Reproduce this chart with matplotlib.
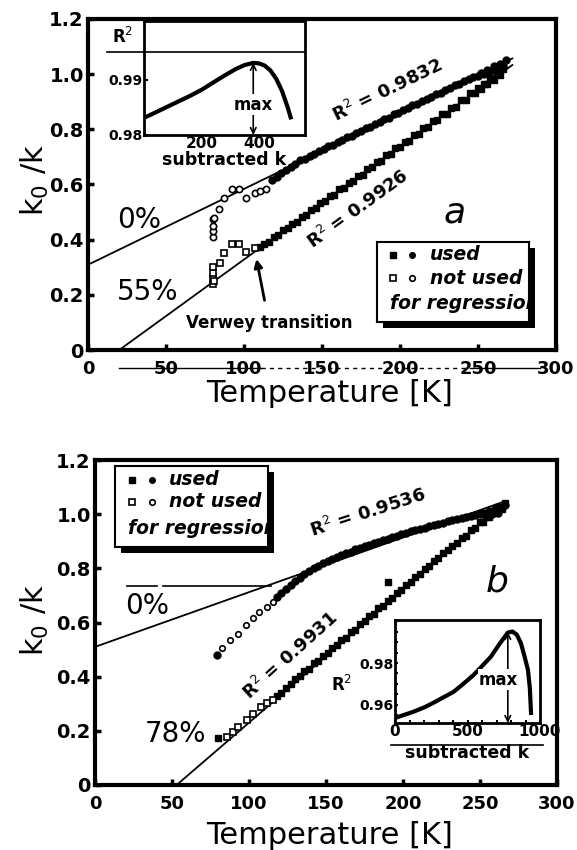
import numpy as np
import matplotlib.pyplot as plt
from matplotlib.patches import Rectangle
import matplotlib.transforms as mtransforms

W, H = 577, 850

# ---------------- panel a data ----------------
T_a0_not = [80, 80, 80, 80, 81, 84, 87, 92, 97, 101.5, 107, 110.5, 114]
y_a0_not = [0.41, 0.43, 0.45, 0.475, 0.48, 0.51, 0.55, 0.585, 0.585, 0.55, 0.57, 0.578, 0.585]
T_a0 = [118, 121, 124, 127, 130, 133, 136, 139, 142, 145, 148, 151, 154, 157, 160, 163, 166, 169,
        172, 175, 178, 181, 184, 187, 190, 193, 196, 199, 202, 205, 208, 211, 214, 217, 220, 223,
        226, 229, 232, 235, 238, 241, 244, 247, 250, 252, 254, 256, 258, 260, 262, 264, 266, 268]
y_a0 = [0.615, 0.628, 0.640, 0.652, 0.664, 0.676, 0.688, 0.694, 0.703, 0.712, 0.722, 0.727, 0.738,
        0.744, 0.755, 0.760, 0.772, 0.776, 0.788, 0.793, 0.805, 0.809, 0.821, 0.826, 0.838, 0.842,
        0.855, 0.858, 0.870, 0.876, 0.887, 0.893, 0.901, 0.911, 0.917, 0.928, 0.933, 0.944, 0.950,
        0.960, 0.966, 0.975, 0.982, 0.990, 0.993, 1.004, 1.000, 1.015, 1.010, 1.028, 1.020, 1.038,
        1.030, 1.050]
T_a55_not = [80, 80, 80, 80, 81, 84.5, 87, 92, 97, 101.5, 107]
y_a55_not = [0.24, 0.26, 0.28, 0.30, 0.25, 0.316, 0.353, 0.385, 0.385, 0.356, 0.37]
T_a55 = [110, 113, 116, 119, 122, 125, 128, 131, 134, 137, 140, 143, 146, 149, 152, 155, 158, 161,
         164, 167, 170, 173, 176, 179, 182, 185, 188, 191, 194, 197, 200, 203, 206, 209, 212, 215,
         218, 221, 224, 227, 230, 233, 236, 239, 242, 245, 248, 250, 252, 254, 256, 258, 260, 262,
         264, 266]
y_a55 = [0.372, 0.384, 0.392, 0.409, 0.416, 0.434, 0.441, 0.458, 0.465, 0.483, 0.490, 0.508, 0.514,
         0.533, 0.539, 0.558, 0.563, 0.583, 0.588, 0.607, 0.612, 0.632, 0.636, 0.657, 0.662, 0.681,
         0.685, 0.706, 0.711, 0.731, 0.735, 0.755, 0.759, 0.780, 0.784, 0.805, 0.808, 0.830, 0.833,
         0.855, 0.857, 0.879, 0.882, 0.905, 0.907, 0.930, 0.933, 0.950, 0.948, 0.966, 0.963, 0.985,
         0.980, 1.002, 0.998, 1.020]
fit_a0 = [0.309, 0.00275]     # intercept, slope
fit_a55 = [-0.082, 0.0041]
fit_a_T = [[0, 272], [20, 272]]

k_a = [0, 40, 80, 120, 160, 200, 240, 280, 320, 350, 380, 400, 420, 440, 460, 480, 500, 510]
r2_a = [0.9831, 0.9841, 0.9851, 0.9861, 0.9871, 0.9882, 0.9895, 0.9908, 0.9920, 0.9927, 0.9931,
        0.9930, 0.9926, 0.9917, 0.9902, 0.9880, 0.9850, 0.9832]

# ---------------- panel b data ----------------
T_b0_not = [82.5, 87.7, 93, 98, 102.6, 106.5, 111.7, 115.6]
y_b0_not = [0.507, 0.537, 0.559, 0.589, 0.615, 0.637, 0.656, 0.674]
T_b0 = [79, 118, 121, 124, 127, 130, 133, 136, 139, 142, 145, 148, 151, 154, 157, 160, 163, 166,
        169, 172, 175, 178, 181, 184, 187, 190, 193, 196, 199, 202, 205, 208, 211, 214, 217, 220,
        223, 226, 229, 232, 235, 238, 241, 244, 247, 250, 252, 254, 256, 258, 260, 262, 264, 266]
y_b0 = [0.48, 0.695, 0.710, 0.725, 0.740, 0.752, 0.765, 0.778, 0.790, 0.800, 0.810, 0.818, 0.826,
        0.834, 0.842, 0.848, 0.856, 0.862, 0.870, 0.875, 0.883, 0.887, 0.894, 0.898, 0.905, 0.909,
        0.916, 0.920, 0.926, 0.930, 0.937, 0.940, 0.946, 0.950, 0.956, 0.960, 0.965, 0.968, 0.974,
        0.977, 0.982, 0.985, 0.990, 0.992, 0.998, 1.000, 1.005, 0.996, 1.010, 1.000, 1.018, 1.005,
        1.025, 1.035]
T_b78_not = [85.6, 89.6, 93, 98.6, 102.6, 108, 112, 115.6]
y_b78_not = [0.178, 0.196, 0.215, 0.24, 0.263, 0.289, 0.304, 0.315]
T_b78 = [80, 118, 121, 124, 127, 130, 133, 136, 139, 142, 145, 148, 151, 154, 157, 160, 163, 166,
         169, 172, 175, 178, 181, 184, 187, 190, 193, 196, 199, 202, 205, 208, 211, 214, 217, 220,
         223, 226, 229, 232, 235, 238, 241, 244, 247, 250, 252, 254, 256, 258, 260, 262, 264, 266, 190]
y_b78 = [0.174, 0.330, 0.341, 0.360, 0.372, 0.390, 0.401, 0.420, 0.430, 0.449, 0.458, 0.478, 0.487,
         0.506, 0.516, 0.536, 0.544, 0.565, 0.574, 0.594, 0.604, 0.623, 0.633, 0.652, 0.662, 0.681,
         0.692, 0.710, 0.720, 0.739, 0.750, 0.768, 0.780, 0.797, 0.810, 0.826, 0.838, 0.855, 0.866,
         0.884, 0.894, 0.912, 0.921, 0.942, 0.950, 0.970, 0.972, 0.990, 0.988, 1.010, 1.005, 1.028,
         1.020, 1.040, 0.748]
fit_b0 = [0.51, 0.00202]
fit_b78 = [-0.2597, 0.0049]
fit_b_T = [[0, 266], [53, 266]]

k_b = [0, 60, 125, 200, 264, 330, 403, 470, 542, 600, 660, 720, 778, 810, 840, 868, 890, 917, 930, 938]
r2_b = [0.9538, 0.9552, 0.9567, 0.9588, 0.9610, 0.9635, 0.9662, 0.9700, 0.9743, 0.9785, 0.9829,
        0.9890, 0.9945, 0.9950, 0.9935, 0.9895, 0.9840, 0.9767, 0.9680, 0.9562]

xticks = [0, 50, 100, 150, 200, 250, 300]
yticks = [0, 0.2, 0.4, 0.6, 0.8, 1.0, 1.2]
ytick_labels = ['0', '0.2', '0.4', '0.6', '0.8', '1.0', '1.2']


def px_rect(l, t, r, b):
    return [l / W, 1 - b / H, (r - l) / W, (b - t) / H]


fig = plt.figure(figsize=(W / 100, H / 100), dpi=100)


def main_axes(rect):
    ax = fig.add_axes(rect)
    ax.set_xlim(0, 300)
    ax.set_ylim(0, 1.2)
    ax.set_xticks(xticks)
    ax.set_xticklabels([str(t) for t in xticks], fontsize=13, fontweight='bold')
    ax.set_yticks(yticks)
    ax.set_yticklabels(ytick_labels, fontsize=14, fontweight='bold')
    ax.tick_params(direction='in', length=4, width=2.5, pad=3)
    ax.tick_params(axis='x', pad=7)
    for s in ax.spines.values():
        s.set_linewidth(3)
    return ax


def draw_fit(ax, fit, Ts):
    xs = np.array(Ts, dtype=float)
    ax.plot(xs, fit[0] + fit[1] * xs, color='black', lw=1.3, zorder=2)


def legend_box(rect, mx, tx, rows, x3):
    shadow_rect = [rect[0] + 6 / W, rect[1] - 6 / H, rect[2], rect[3]]
    fig.add_artist(Rectangle(shadow_rect[:2], shadow_rect[2], shadow_rect[3],
                             transform=fig.transFigure, facecolor='black', zorder=3))
    lg = fig.add_axes(rect, zorder=4)
    lg.set_xlim(0, 1)
    lg.set_ylim(0, 1)
    lg.set_xticks([])
    lg.set_yticks([])
    for s in lg.spines.values():
        s.set_linewidth(1.5)
    lg.plot([mx[0]], [rows[0]], 's', color='black', ms=5)
    lg.plot([mx[1]], [rows[0]], 'o', color='black', ms=4)
    lg.plot([mx[0]], [rows[1]], 's', mfc='white', mec='black', mew=1.2, ms=5)
    lg.plot([mx[1]], [rows[1]], 'o', mfc='white', mec='black', mew=1.2, ms=4)
    kw = dict(style='italic', fontweight='bold', fontsize=13.5, va='center')
    lg.text(tx, rows[0], 'used', **kw)
    lg.text(tx, rows[1], 'not used', **kw)
    lg.text(x3, rows[2], 'for regression', clip_on=True, **kw)


# ================= panel a =================
ax = main_axes(px_rect(88, 19, 556, 350))
draw_fit(ax, fit_a0, fit_a_T[0])
draw_fit(ax, fit_a55, fit_a_T[1])
ax.plot(T_a0, y_a0, 'o', color='black', ms=5, zorder=3)
ax.plot(T_a55, y_a55, 's', color='black', ms=5, zorder=3)
ax.plot(T_a0_not, y_a0_not, 'o', mfc='white', mec='black', mew=1.2, ms=4.5, zorder=3)
ax.plot(T_a55_not, y_a55_not, 's', mfc='white', mec='black', mew=1.2, ms=5, zorder=3)

ax.text(33, 0.47, '0%', fontsize=20, ha='center', va='center')
ax.text(38, 0.21, '55%', fontsize=20, ha='center', va='center')
ax.text(192, 0.94, 'R$^2$ = 0.9832', fontsize=13, fontweight='bold', rotation=26,
        ha='center', va='center')
ax.text(173, 0.51, 'R$^2$ = 0.9926', fontsize=13, fontweight='bold', rotation=36,
        ha='center', va='center')
ax.text(235, 0.50, 'a', fontsize=26, style='italic', ha='center', va='center')
ax.annotate('Verwey transition', xy=(108, 0.33), xytext=(116, 0.098), fontsize=12,
            fontweight='bold', ha='center', va='center',
            arrowprops=dict(arrowstyle='-|>', color='black', lw=2, shrinkA=8, shrinkB=0))

# scanner stroke running through the tick labels
trans = mtransforms.blended_transform_factory(ax.transData, ax.transAxes)
ax.plot([20, 111], [-0.055, -0.055], color='black', lw=1, transform=trans, clip_on=False)
ax.plot([111, 245], [-0.055, -0.055], color='black', lw=1, ls=(0, (3, 3)), transform=trans,
        clip_on=False)
ax.plot([245, 290], [-0.055, -0.055], color='black', lw=1, transform=trans, clip_on=False)

fig.text(330 / W, 1 - 393 / H, 'Temperature [K]', fontsize=22, ha='center', va='center')
fig.text(35 / W, 1 - 180 / H, 'k$_0$ /k', fontsize=22, rotation=90, ha='center', va='center')

legend_box(px_rect(377, 242, 529, 322), [0.105, 0.23], 0.35, [0.84, 0.55, 0.23], 0.085)

# inset a
ia = fig.add_axes(px_rect(144, 21, 305, 135), zorder=4)
ia.plot(k_a, r2_a, color='black', lw=3)
ia.set_xlim(0, 560)
ia.set_ylim(0.98, 1.0007)
ia.set_xticks([200, 400])
ia.set_xticklabels(['200', '400'], fontsize=11, fontweight='bold')
ia.set_yticks([0.98, 0.99])
ia.set_yticklabels(['0.98', '0.99'], fontsize=10, fontweight='bold')
ia.tick_params(direction='in', length=3, width=1.5, pad=1)
ia.tick_params(axis='x', length=0)
for s in ia.spines.values():
    s.set_linewidth(2)
ia.axhline(0.995, xmin=-0.23, xmax=1, color='black', lw=1.2, clip_on=False)
ia.text(-0.13, 0.86, 'R$^2$', transform=ia.transAxes, fontsize=12, fontweight='bold',
        ha='center', va='center')
ia.annotate('', xy=(380, 0.9931), xytext=(380, 0.98),
            arrowprops=dict(arrowstyle='<->', color='black', lw=1.2, shrinkA=0, shrinkB=0))
ia.text(380, 0.9855, 'max', fontsize=12, fontweight='bold', ha='center', va='center',
        bbox=dict(facecolor='white', edgecolor='none', pad=1))
ia.set_xlabel('subtracted k', fontsize=12.5, fontweight='bold', labelpad=0)

# ================= panel b =================
bx = main_axes(px_rect(95, 460, 557, 785))
draw_fit(bx, fit_b0, fit_b_T[0])
draw_fit(bx, fit_b78, fit_b_T[1])
bx.plot(T_b0, y_b0, 'o', color='black', ms=5, zorder=3)
bx.plot(T_b78, y_b78, 's', color='black', ms=5, zorder=3)
bx.plot(T_b0_not, y_b0_not, 'o', mfc='white', mec='black', mew=1.2, ms=4, zorder=3)
bx.plot(T_b78_not, y_b78_not, 's', mfc='white', mec='black', mew=1.2, ms=5, zorder=3)

bx.plot([21, 40], [0.733, 0.733], color='black', lw=1.2)
bx.plot([44, 114], [0.733, 0.733], color='black', lw=1.2)
bx.text(34, 0.66, '0%', fontsize=20, ha='center', va='center')
bx.text(52, 0.19, '78%', fontsize=20, ha='center', va='center')
bx.text(177, 1.007, 'R$^2$ = 0.9536', fontsize=13, fontweight='bold', rotation=18,
        ha='center', va='center')
bx.text(127, 0.478, 'R$^2$ = 0.9931', fontsize=13, fontweight='bold', rotation=42,
        ha='center', va='center')
bx.text(261, 0.75, 'b', fontsize=26, style='italic', ha='center', va='center')

fig.text(330 / W, 1 - 835 / H, 'Temperature [K]', fontsize=22, ha='center', va='center')
fig.text(35 / W, 1 - 620 / H, 'k$_0$ /k', fontsize=22, rotation=90, ha='center', va='center')

legend_box(px_rect(115, 466, 268, 547), [0.11, 0.24], 0.35, [0.83, 0.56, 0.23], 0.085)

# inset b
ib = fig.add_axes(px_rect(395, 620, 540, 723), zorder=4)
ib.plot(k_b, r2_b, color='black', lw=3)
ib.set_xlim(0, 1000)
ib.set_ylim(0.9514, 1.0005)
ib.set_xticks([0, 500, 1000])
ib.set_xticklabels(['0', '500', '1000'], fontsize=11, fontweight='bold')
ib.set_xticks(np.arange(0, 1001, 100), minor=True)
ib.set_yticks([0.96, 0.98])
ib.set_yticklabels(['0.96', '0.98'], fontsize=10, fontweight='bold')
ib.set_yticks(np.arange(0.955, 1.0, 0.005), minor=True)
ib.tick_params(which='both', direction='in', length=2.5, width=1.5, pad=1)
for s in ib.spines.values():
    s.set_linewidth(2)
ib.plot([-0.03, 1.02], [-0.21, -0.21], color='black', lw=1.2, transform=ib.transAxes,
        clip_on=False)
ib.text(-0.37, 0.37, 'R$^2$', transform=ib.transAxes, fontsize=12, fontweight='bold',
        ha='center', va='center')
ib.annotate('', xy=(778, 0.9948), xytext=(778, 0.9514),
            arrowprops=dict(arrowstyle='<->', color='black', lw=1.2, shrinkA=0, shrinkB=0))
ib.text(715, 0.972, 'max', fontsize=12, fontweight='bold', ha='center', va='center',
        bbox=dict(facecolor='white', edgecolor='none', pad=1))
ib.set_xlabel('subtracted k', fontsize=12.5, fontweight='bold', labelpad=3)

fig.savefig('out.png', dpi=100)
